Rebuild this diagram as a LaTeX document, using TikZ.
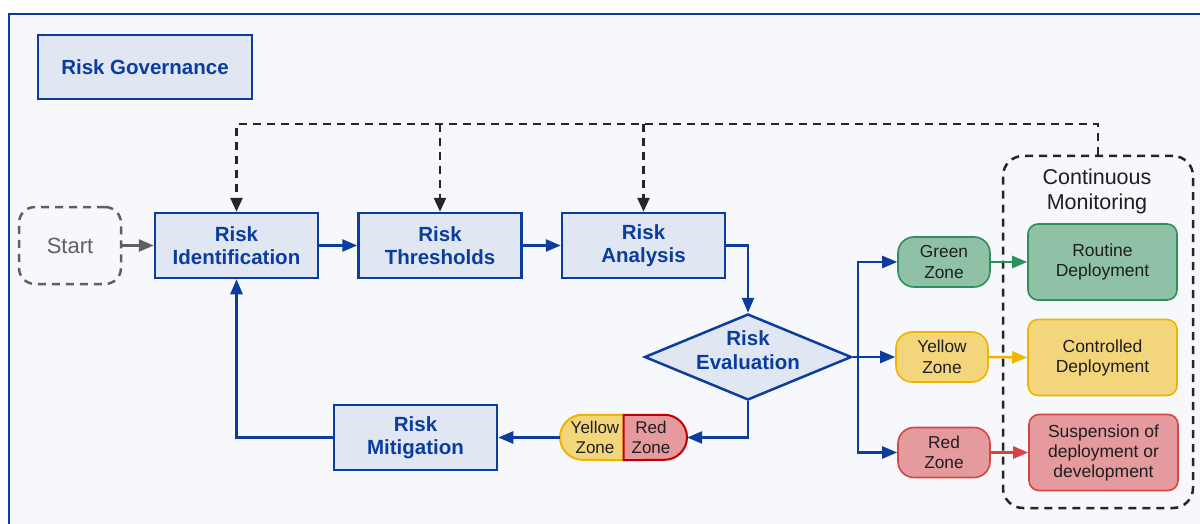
\documentclass[tikz,border=0pt]{standalone}
\usepackage{fontspec}
\setmainfont{Liberation Sans}
\usetikzlibrary{arrows.meta,shapes.geometric}
\definecolor{navy}{HTML}{0B3D9E}
\definecolor{boxfill}{HTML}{E1E6F3}
\definecolor{bgfill}{HTML}{F6F8FC}
\definecolor{greyline}{HTML}{606060}
\definecolor{dashcol}{HTML}{262626}
\definecolor{gfill}{HTML}{8FC1A6}
\definecolor{gline}{HTML}{2F8F5B}
\definecolor{yfill}{HTML}{F3D67C}
\definecolor{yline}{HTML}{F0B400}
\definecolor{rfill}{HTML}{E59A9E}
\definecolor{rline}{HTML}{D64545}
\definecolor{rdark}{HTML}{C00000}
\definecolor{txt}{HTML}{1E1E1E}
\tikzset{
  procbox/.style={draw=navy, fill=boxfill, line width=2.5pt, minimum width=163pt, minimum height=65pt, inner sep=0pt, align=center, text=navy, font=\bfseries\fontsize{20.5}{23.5}\selectfont},
  zone/.style={line width=1.6pt, rounded corners=16pt, minimum width=92pt, minimum height=50pt, inner sep=0pt, align=center, text=txt, font=\fontsize{17.3}{20.5}\selectfont},
  outbox/.style={line width=1.6pt, rounded corners=10pt, minimum width=149pt, minimum height=76pt, inner sep=0pt, align=center, text=txt, font=\fontsize{17.5}{20}\selectfont},
  flow/.style={draw=navy, line width=2.5pt, -{Triangle[length=15pt,width=12pt]}},
  plain/.style={draw=navy, line width=2.5pt},
  dashflow/.style={draw=dashcol, line width=2.5pt, dash pattern=on 8pt off 6pt, -{Triangle[length=14pt,width=12pt]}},
}
\begin{document}
\begin{tikzpicture}[x=1pt,y=-1pt]
\useasboundingbox (0,0) rectangle (1200,524);
% frame
\draw[draw=navy, fill=bgfill, line width=2.5pt] (9,14) rectangle (1230,560);
% title box
\node[procbox, minimum width=214pt, minimum height=64pt] (gov) at (145,67) {Risk Governance};
% start
\node[draw=greyline, dash pattern=on 8pt off 6pt, line width=2.5pt, rounded corners=16pt, minimum width=102pt, minimum height=77pt, text=greyline, font=\fontsize{22}{26}\selectfont] (start) at (70,245.5) {Start};
% process boxes
\node[procbox] (ident) at (236.5,245.5) {Risk\\Identification};
\node[procbox] (thr) at (440,245.5) {Risk\\Thresholds};
\node[procbox] (ana) at (643.5,245.5) {Risk\\Analysis};
\node[procbox] (mit) at (415.5,437.5) {Risk\\Mitigation};
\node[diamond, draw=navy, fill=boxfill, line width=2.5pt, aspect=2.4, minimum width=207pt, minimum height=86pt, inner sep=0pt, text=navy, font=\bfseries\fontsize{20.5}{23.5}\selectfont] (eval) at (748,357) {\raisebox{-1pt}[0pt][0pt]{\begin{tabular}{@{}c@{}}Risk\\Evaluation\end{tabular}}};
% pill
\node[minimum width=127pt, minimum height=45pt, inner sep=0pt] (pill) at (623.5,437.5) {};
\draw[fill=yfill, draw=yline, line width=2pt] (pill.north) -- ++(-41,0) arc[start angle=90, end angle=270, radius=22.5pt] -- (pill.south) -- cycle;
\draw[fill=rfill, draw=rdark, line width=2pt] (pill.north) -- ++(41,0) arc[start angle=90, end angle=-90, radius=22.5pt] -- (pill.south) -- cycle;
\node[align=center, text=txt, font=\fontsize{17}{20}\selectfont] (pyl) at (595,437.5) {Yellow\\Zone};
\node[align=center, text=txt, font=\fontsize{17}{20}\selectfont] (prd) at (651,437.5) {Red\\Zone};
% zones
\node[zone, draw=gline, fill=gfill] (green) at (944,262) {Green\\Zone};
\node[zone, draw=yline, fill=yfill] (yellow) at (942,357) {Yellow\\Zone};
\node[zone, draw=rline, fill=rfill] (red) at (944,452.5) {Red\\Zone};
% monitoring container
\node[draw=dashcol, dash pattern=on 8pt off 6pt, line width=2.5pt, rounded corners=20pt, minimum width=190pt, minimum height=352pt, inner sep=0pt] (mon) at (1098,332) {};
\node[align=center, text=txt, font=\fontsize{21.5}{25}\selectfont] (montitle) at (1097,191) {Continuous\\Monitoring};
\node[outbox, draw=gline, fill=gfill] (routine) at (1102.5,262) {Routine\\Deployment};
\node[outbox, draw=yline, fill=yfill] (ctrl) at (1102.5,357.5) {Controlled\\Deployment};
\node[outbox, draw=rline, fill=rfill] (susp) at (1103.5,452.5) {Suspension of\\deployment or\\development};
% connectors
\draw[draw=greyline, line width=2.5pt, -{Triangle[length=15pt,width=12pt]}] (start.east) -- (ident.west);
\draw[flow] (ident.east) -- (thr.west);
\draw[flow] (thr.east) -- (ana.west);
\draw[flow] (ana.east) -| (eval.north);
\draw[flow] (eval.south) |- (pill.east);
\draw[flow] (pill.west) -- (mit.east);
\draw[flow] (mit.west) -| (ident.south);
\coordinate (br) at (858,357);
\draw[plain] (eval.east) -- (br);
\draw[flow] (br) |- (green.west);
\draw[flow] (br) -- (yellow.west);
\draw[flow] (br) |- (red.west);
\draw[draw=gline, line width=2.5pt, -{Triangle[length=15pt,width=12pt]}] (green.east) -- (routine.west);
\draw[draw=yline, line width=2.5pt, -{Triangle[length=15pt,width=12pt]}] (yellow.east) -- (ctrl.west);
\draw[draw=rline, line width=2.5pt, -{Triangle[length=15pt,width=12pt]}] (red.east) -- (susp.west);
% monitoring feedback
\coordinate (bus) at (0,124);
\draw[dashflow] (mon.north) |- (ident.north |- bus) -- (ident.north);
\draw[dashflow] (thr.north |- bus) -- (thr.north);
\draw[dashflow] (ana.north |- bus) -- (ana.north);
\end{tikzpicture}
\end{document}
